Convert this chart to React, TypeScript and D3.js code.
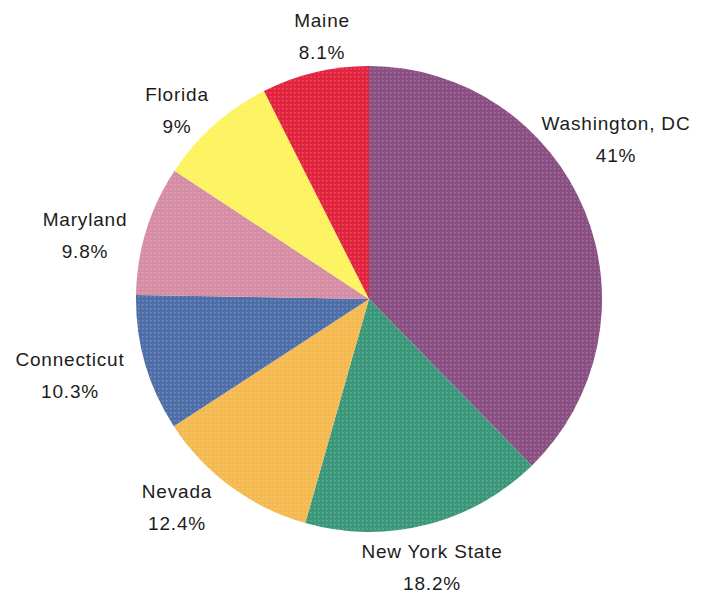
import React from "react";
import * as d3 from "d3";

const states = ["Washington, DC", "New York State", "Nevada", "Connecticut", "Maryland", "Florida", "Maine"];
const shares = [41, 18.2, 12.4, 10.3, 9.8, 9, 8.1];
const shareLabels = ["41%", "18.2%", "12.4%", "10.3%", "9.8%", "9%", "8.1%"];
const colors = ["#8a4f83", "#3b977a", "#f4b94f", "#4e6ea8", "#d58da4", "#fdf35e", "#e2243e"];
// label anchor (centre x, first baseline y) for each slice
const labelAnchors: [number, number][] = [
  [616, 130],
  [432, 558],
  [177, 498],
  [70, 366],
  [85, 226],
  [177, 101],
  [322, 27],
];

const W = 711;
const H = 597;
const cx = 369;
const cy = 299;
const R = 233;

export default function App() {
  const data = states.map((s, i) => ({ s, v: shares[i], i }));
  const pie = d3.pie<any>().value((d) => d.v).sort(null);
  const arcs = pie(data);
  const arc = d3.arc<any>().innerRadius(0).outerRadius(R);
  return (
    <svg width={W} height={H} style={{ position: "absolute", left: 0, top: 0, background: "#fff" }}>
      <defs>
        <pattern id="dots" width="4" height="4" patternUnits="userSpaceOnUse">
          <rect x="1" y="1" width="1.5" height="1.5" fill="#ffffff" opacity="0.22" />
        </pattern>
      </defs>
      <g transform={`translate(${cx},${cy})`}>
        {arcs.map((a, i) => (
          <path key={i} d={arc(a) as string} fill={colors[i]} />
        ))}
        {arcs.map((a, i) => (
          <path key={"p" + i} d={arc(a) as string} fill="url(#dots)" />
        ))}
      </g>
      {data.map((d, i) => (
        <text
          key={i}
          x={labelAnchors[i][0]}
          y={labelAnchors[i][1]}
          textAnchor="middle"
          fontFamily="Liberation Sans, Arial, sans-serif"
          fontSize={19}
          letterSpacing={0.8}
          fill="#1c1c1c"
        >
          <tspan x={labelAnchors[i][0]}>{d.s}</tspan>
          <tspan x={labelAnchors[i][0]} dy={32}>{shareLabels[i]}</tspan>
        </text>
      ))}
    </svg>
  );
}
